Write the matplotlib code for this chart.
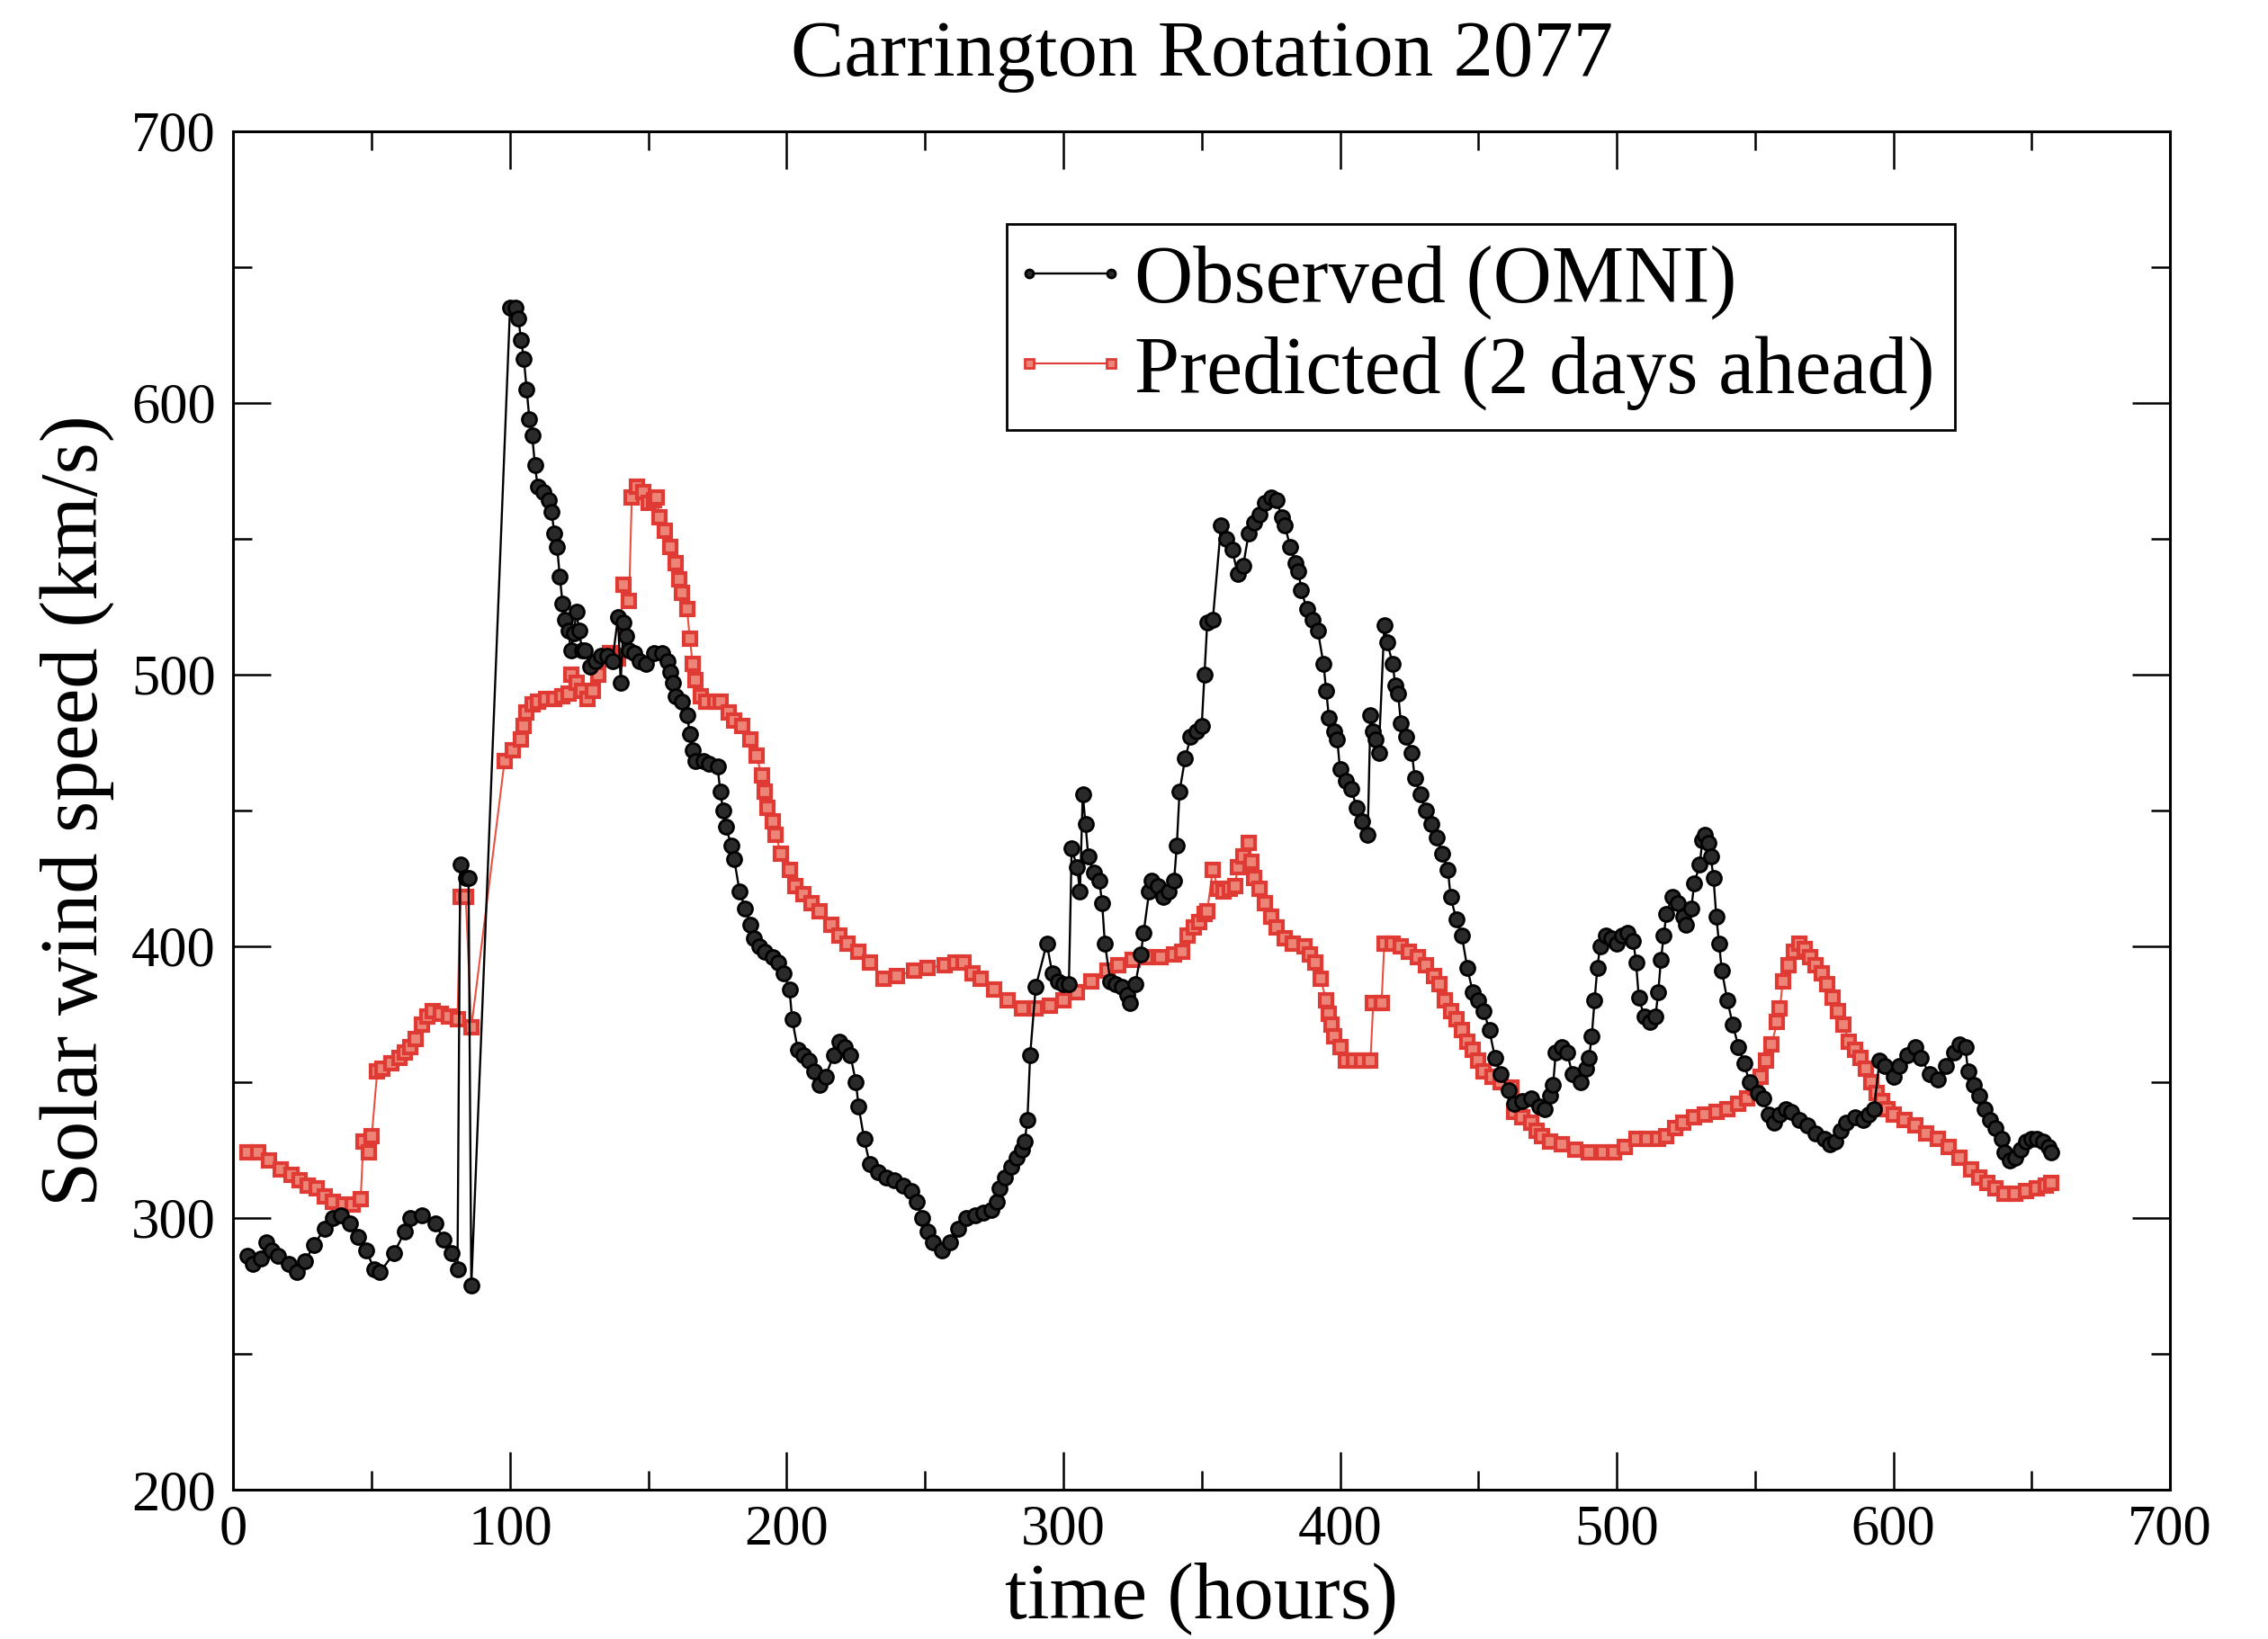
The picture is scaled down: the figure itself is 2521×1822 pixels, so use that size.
import matplotlib
matplotlib.use("Agg")
import matplotlib.pyplot as plt
from matplotlib.ticker import MultipleLocator
from matplotlib.lines import Line2D
from matplotlib.legend_handler import HandlerLine2D

# ---------------- data ----------------
obs_t = [5, 7, 10, 12, 14, 16, 20, 23, 26, 29, 33, 36, 39, 42, 45, 48, 51, 53, 58, 62,
         64, 68, 73, 76, 79, 81, 82, 84, 85, 86,
         100, 102, 103, 104, 105, 106, 107, 108, 109, 110, 112, 114, 115, 116, 117, 118, 119, 120,
         121, 122, 123, 124, 125, 126, 127, 129, 131, 133, 135, 137, 139, 140, 141, 142, 143,
         145, 147, 149, 152, 155, 157, 158, 159, 160, 162, 164, 165, 166, 167, 170, 172, 175,
         176, 177, 178, 180, 181, 183, 185, 187, 188, 190, 192, 195, 197, 199, 201, 202, 204,
         206, 208, 210, 212, 214, 217, 219, 221, 223, 225, 226, 228, 230, 233, 236, 239, 242,
         245, 247, 249, 251, 253, 256, 259, 262, 265, 268, 271, 274, 276, 277, 279, 281, 283,
         285, 286, 287, 288, 290, 294, 296, 298, 300, 302, 303, 305, 306, 307, 308, 309, 311,
         313, 314, 315, 317, 319, 321, 323, 324, 326, 328, 329, 331, 332, 334, 336, 338, 340,
         341, 342, 344, 346, 348, 350, 351, 352, 354, 357, 359, 361, 363, 365, 367, 369,
         371, 373, 375, 377, 379, 380, 382, 384, 385, 386, 388, 390, 392, 394, 395, 396, 398,
         399, 400, 402, 404, 406, 408, 410, 411, 412, 413, 414, 416, 417, 419, 420, 421, 422,
         424, 426, 427, 429, 431, 433, 435, 437, 439, 440, 442, 444, 446, 448, 450, 452, 454,
         456, 458, 461, 463, 466, 469, 472, 474, 476, 477, 478, 480, 482, 484, 487, 489, 490,
         491, 492, 493, 494, 496, 498, 500, 502, 504, 506, 507, 508, 510, 512, 514, 515, 516,
         517, 518, 520, 522, 524, 525, 527, 528, 530, 531, 532, 533, 534, 535, 536, 537, 538,
         540, 542, 544, 546, 548, 551, 553, 555, 557, 559, 561, 563, 566, 569, 572, 575, 577,
         579, 581, 583, 586, 589, 591, 593, 595, 597, 600, 602, 605, 608, 610, 613, 616, 619,
         622, 624, 626, 627, 629, 631, 633, 635, 637, 639, 640, 642, 644, 646, 648, 650, 652,
         654, 656, 657]
obs_v = [286, 283, 285, 291, 288, 286, 283, 280, 284, 290, 296, 300, 301, 298, 293, 288, 281, 280, 287, 295,
         300, 301, 298, 292, 287, 281, 430, 425, 425, 275,
         635, 635, 631, 623, 616, 605, 594, 588, 577, 569, 567, 564, 560, 552, 547, 536, 526, 520,
         516, 509, 515, 523, 516, 509, 509, 503, 505, 507, 507, 505, 521, 497, 519, 514, 509,
         508, 505, 504, 508, 508, 505, 501, 497, 492, 490, 485, 478, 472, 468, 468, 467, 466,
         457, 450, 444, 437, 432, 420, 414, 408, 403, 400, 398, 396, 394, 390, 384, 373, 362,
         360, 358, 354, 349, 352, 360, 365, 363, 360, 350, 341, 329, 320, 317, 315, 314, 312,
         310, 306, 300, 295, 291, 288, 291, 296, 300, 301, 302, 303, 306, 311, 315, 319, 322,
         325, 328, 336, 360, 385, 401, 390, 387, 386, 386, 436, 429, 420, 456, 445, 433, 427,
         424, 416, 401, 387, 386, 385, 382, 379, 386, 397, 405, 420, 424, 422, 418, 420, 424,
         437, 457, 469, 477, 479, 481, 500, 519, 520, 555, 550, 546, 537, 540, 552, 556,
         559, 563, 565, 564, 558, 555, 547, 541, 538, 531, 524, 520, 516, 504, 494, 484, 479,
         476, 465, 461, 458, 451, 446, 441, 485, 479, 476, 471, 518, 512, 504, 496, 493, 482,
         477, 471, 462, 456, 450, 445, 440, 434, 428, 418, 410, 404, 392, 383, 380, 376, 369,
         359, 353, 347, 342, 343, 344, 341, 340, 345, 349, 361, 363, 361, 353, 350, 355, 359,
         367, 380, 392, 400, 404, 403, 401, 404, 405, 402, 394, 381, 374, 372, 374, 383, 395,
         404, 412, 418, 416, 411, 408, 414, 423, 430, 439, 441, 438, 433, 425, 411, 401, 391,
         380, 371, 363, 357, 350, 346, 344, 338, 335, 338, 340, 339, 336, 334, 331, 329, 327,
         328, 332, 335, 337, 336, 338, 340, 358, 356, 352, 356, 360, 363, 359, 353, 351, 356,
         361, 364, 363, 354, 349, 345, 340, 336, 333, 329, 324, 321, 322, 325, 328, 329, 329,
         328, 326, 324]

pred_t = [5, 9, 13, 17, 21, 24, 27, 30, 33, 36, 40, 43, 46, 47, 49, 50, 52, 54, 57, 60,
          62, 64, 66, 68, 70, 72, 75, 78, 81, 82, 84, 86,
          98, 101, 104, 105, 106, 108, 110, 113, 116, 119, 121, 122, 124, 126, 128, 130, 132,
          134, 136, 138, 139, 141, 143, 144, 146, 148, 150, 152, 153, 154, 156, 158, 160, 161,
          162, 164, 165, 166, 167, 169, 171, 174, 176, 179, 181, 184, 187, 189, 191, 192, 193,
          195, 196, 198, 201, 203, 206, 209, 212, 216, 219, 222, 226, 230, 235, 240, 246, 251,
          257, 261, 264, 267, 270, 275, 280, 285, 290, 295, 300, 305, 310, 316, 320, 325, 330,
          335, 340, 343, 345, 347, 349, 351, 352, 354, 356, 358, 360, 362, 363, 365, 367, 368,
          369, 371, 373, 375, 377, 380, 383, 387, 389, 391, 393, 395, 396, 397, 398, 400, 402,
          405, 408, 411, 412, 415, 416, 419, 422, 425, 428, 431, 434, 436, 438, 440, 442, 444,
          446, 448, 450, 452, 455, 458, 462, 463, 466, 469, 471, 473, 476, 480, 485, 490, 495,
          499, 503, 507, 511, 515, 518, 521, 524, 528, 532, 536, 540, 544, 547, 550, 552, 554,
          556, 558, 559, 560, 562, 564, 566, 568, 570, 572, 574, 576, 578, 580, 582, 584, 586,
          588, 590, 592, 594, 596, 598, 600, 604, 608, 612, 616, 620, 624, 628, 631, 634, 637,
          640, 644, 648, 652, 655, 657]
pred_v = [324, 324, 321, 318, 316, 314, 312, 311, 308, 306, 305, 305, 307, 328, 324, 330, 354, 355, 357, 359,
          361, 363, 366, 371, 374, 376, 375, 374, 373, 418, 418, 370,
          468, 472, 476, 481, 486, 489, 490, 491, 491, 492, 493, 500, 497, 494, 491, 494, 500,
          506, 508, 507, 506, 533, 527, 565, 569, 567, 563, 564, 565, 558, 553, 547, 541, 535,
          530, 524, 513, 504, 498, 492, 490, 490, 490, 486, 483, 481, 476, 470, 463, 457, 451,
          446, 441, 434, 428, 422, 419, 416, 413, 408, 404, 401, 398, 394, 388, 389, 391, 392,
          393, 394, 394, 390, 388, 384, 380, 377, 377, 378, 380, 383, 387, 391, 393, 395, 396,
          396, 397, 398, 404, 407, 409, 412, 413, 428, 421, 420, 421, 422, 429, 433, 438, 431,
          425, 421, 416, 411, 407, 403, 401, 400, 397, 394, 388, 380, 375, 371, 367, 363, 358,
          358, 358, 358, 379, 379, 401, 401, 400, 398, 396, 393, 389, 386, 380, 376, 373, 369,
          365, 362, 358, 354, 352, 350, 348, 339, 337, 335, 332, 330, 328, 327, 325, 324, 324,
          324, 326, 329, 329, 329, 330, 333, 335, 337, 338, 339, 340, 342, 344, 348, 352, 358,
          364, 372, 377, 387, 393, 398, 401, 399, 396, 393, 390, 386, 381, 376, 371, 365, 362,
          359, 355, 350, 346, 343, 340, 338, 336, 334, 331, 329, 326, 322, 318, 315, 313, 311,
          309, 309, 310, 311, 312, 313]

title_text = "Carrington Rotation 2077"
x_label = "time (hours)"
y_label = "Solar wind speed (km/s)"
obs_label = "Observed (OMNI)"
pred_label = "Predicted (2 days ahead)"

# ---------------- figure ----------------
plt.rcParams['font.family'] = ['Liberation Serif', 'DejaVu Serif']

fig = plt.figure(figsize=(25.21, 18.22), dpi=100)
ax = fig.add_axes([0.1029, 0.0911, 0.8539, 0.8290])

RED = '#e03a35'
ax.plot(obs_t, obs_v, color='black', lw=1.7, marker='o', ms=11.5,
        mfc='#2a2a2a', mec='black', mew=2.0, label=obs_label, zorder=3)
ax.plot(pred_t, pred_v, color='#e8503f', lw=1.5, marker='s', ms=9.5,
        mfc='#ec8577', mec=RED, mew=3.0, label=pred_label, zorder=2)

ax.set_xlim(0, 700)
ax.set_ylim(200, 700)
ax.xaxis.set_major_locator(MultipleLocator(100))
ax.xaxis.set_minor_locator(MultipleLocator(50))
ax.yaxis.set_major_locator(MultipleLocator(100))
ax.yaxis.set_minor_locator(MultipleLocator(50))
ax.tick_params(which='both', direction='in', top=True, right=True, width=1.8, colors='black')
ax.tick_params(which='major', length=30, labelsize=45)
ax.tick_params(which='minor', length=15)
ax.tick_params(axis='y', which='major', pad=14)
ax.tick_params(axis='x', which='major', pad=12)
for s in ax.spines.values():
    s.set_linewidth(2.2)

ax.set_title(title_text, fontsize=64, pad=44)
ax.set_xlabel(x_label, fontsize=64, labelpad=4)
ax.set_ylabel(y_label, fontsize=65, labelpad=14)

leg = ax.legend(loc='upper left', bbox_to_anchor=(0.3995, 0.9315), fontsize=65,
                numpoints=2, handlelength=1.05, handletextpad=0.27, borderpad=0.25,
                labelspacing=0.2, fancybox=False, framealpha=1, edgecolor='black',
                borderaxespad=0,
                handler_map={Line2D: HandlerLine2D(marker_pad=0.02)})
leg.get_frame().set_linewidth(2.0)
for h in leg.legend_handles:
    h.set_markersize(6.5)
    h.set_markeredgewidth(2.0)
leg.legend_handles[1].set_color(RED)

fig.savefig("out.png", dpi=100)
